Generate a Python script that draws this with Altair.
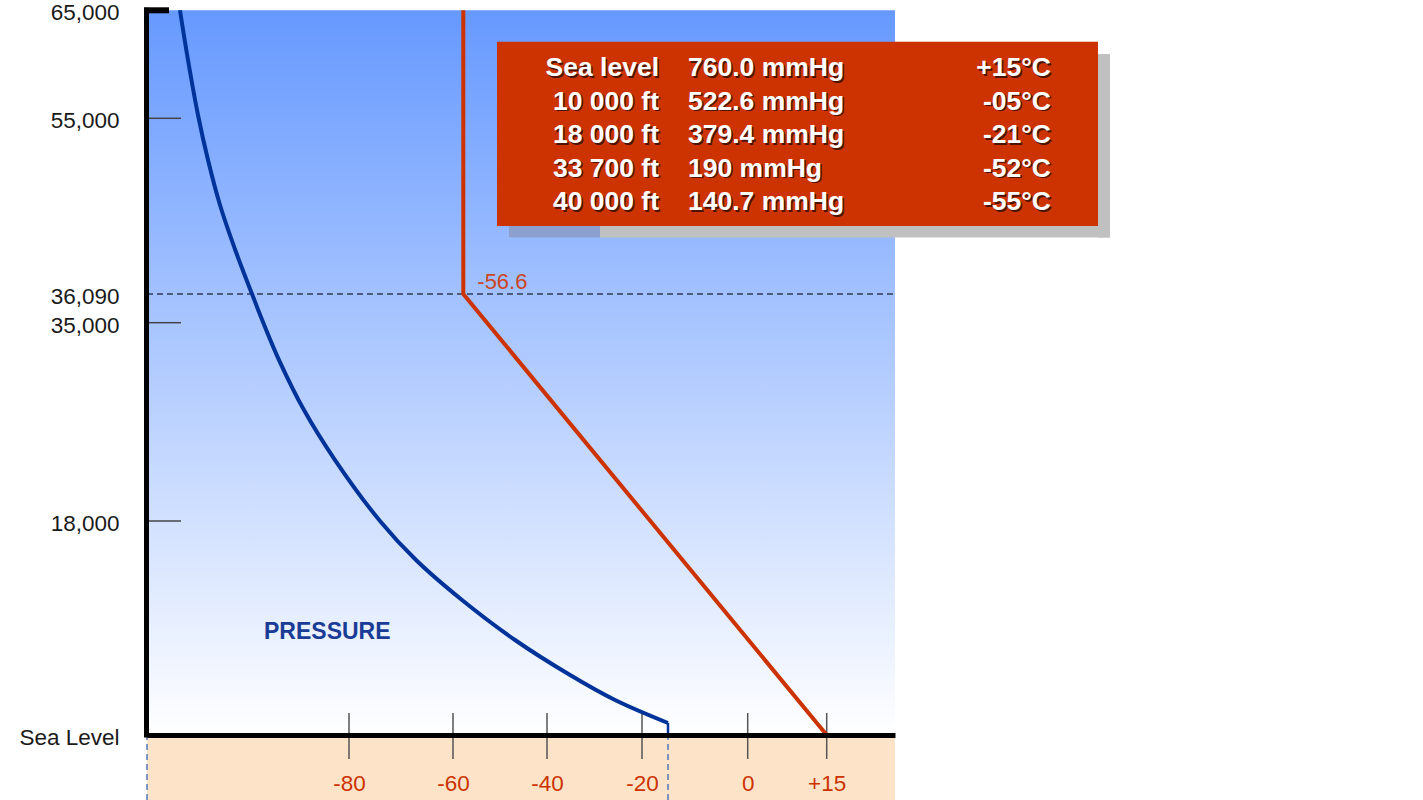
import altair as alt
import pandas as pd

# Standard atmosphere: temperature (deg C) against altitude (ft)
TEMP_ALT_FT = [0, 36090, 65000]
TEMP_C = [15, -56.6, -56.6]

# Pressure curve: pressure (mmHg) against altitude (ft)
SEA_LEVEL_MMHG = 760
PRESS_ALT_FT = [1009, 2944, 5046, 7990, 11354, 14718, 18000, 23228, 27513, 31798,
                35027, 36090, 40609, 45666, 50510, 55306, 60399, 65000]
PRESS_MMHG = [760, 682.7, 617.1, 536.8, 459.5, 392.4, 339.9, 274.3, 229.0, 192.6,
              169.2, 153.2, 129.8, 106.5, 89.0, 74.4, 59.8, 48.1]

Y_TICKS = [0, 18000, 35000, 36090, 55000, 65000]
Y_INNER_TICKS = [18000, 35000, 55000]
X_TICKS = [-80, -60, -40, -20, 0, 15]

TABLE_ALT = ["Sea level", "10 000 ft", "18 000 ft", "33 700 ft", "40 000 ft"]
TABLE_PRESS = ["760.0 mmHg", "522.6 mmHg", "379.4 mmHg", "190 mmHg", "140.7 mmHg"]
TABLE_TEMP = ["+15°C", "-05°C", "-21°C", "-52°C", "-55°C"]

FONT = "Liberation Sans"
RED = "#cc3300"
BLUE = "#003399"

# the vertical axis is drawn to a hand-spaced (piecewise) altitude scale
ALT_LO, ALT_HI = -5466, 65000
ys = alt.Scale(domain=[ALT_LO, 0, 18000, 35000, 36090, 55000, ALT_HI],
               range=[790, 725, 511, 312.7, 284, 108.3, 0.3], nice=False, zero=False)
T_LO, T_HI = -118.8, 28
ts = alt.Scale(domain=[T_LO, -80, -60, -56.6, -40, -20, 0, 15, T_HI],
               range=[0, 202, 306, 316.3, 400, 495, 600.7, 679.7, 748], nice=False, zero=False)
ps = alt.Scale(domain=[0, 760], range=[0, 521], nice=False, zero=False)

yaxis = alt.Axis(values=Y_TICKS, title=None, ticks=False, domain=False, grid=False,
                 labelExpr="datum.value == 0 ? 'Sea Level' : format(datum.value, ',')",
                 labelPadding=28, labelOffset=2.5, labelFontSize=22.5, labelFont=FONT,
                 labelColor="#1a1a1a", labelOverlap=False)
xaxis = alt.Axis(values=X_TICKS, title=None, orient="bottom", offset=-65, ticks=False, tickSize=0,
                 domain=True, domainColor="black", domainWidth=5, grid=False,
                 labelExpr="datum.value > 0 ? '+' + datum.value : '' + datum.value",
                 labelPadding=37, labelFontSize=22.5, labelFont=FONT, labelColor=RED,
                 labelOverlap=False, labelFlush=False, zindex=1)


def Y(field):
    return alt.Y(field, type="quantitative", scale=ys, axis=yaxis)


def TX(field, axis=None):
    return alt.X(field, type="quantitative", scale=ts, axis=axis)


def PX(field):
    return alt.X(field, type="quantitative", scale=ps, axis=None)


one = pd.DataFrame({"t0": [T_LO], "t1": [T_HI], "a0": [0], "a1": [ALT_HI], "lo": [ALT_LO]})

sky = alt.Chart(one).mark_rect(
    fill=alt.LinearGradient(gradient="linear", x1=0, x2=0, y1=0, y2=1,
                            stops=[alt.GradientStop(color="#6699ff", offset=0),
                                   alt.GradientStop(color="#ffffff", offset=1)])
).encode(x=TX("t0"), x2="t1", y=Y("a0"), y2="a1")

ground = alt.Chart(one).mark_rect(fill="#fde4c9").encode(
    x=TX("t0"), x2="t1", y=Y("lo"), y2="a0")

left_drop = alt.Chart(one).mark_rule(color="#5577bb", strokeWidth=1.5, strokeDash=[6, 4]).encode(
    x=TX("t0"), y=Y("lo"), y2="a0")

tropopause = alt.Chart(pd.DataFrame({"t0": [T_LO], "t1": [T_HI], "a": [36090]})).mark_rule(
    color="#333d55", strokeWidth=1.5, strokeDash=[6, 4]).encode(x=TX("t0"), x2="t1", y=Y("a"))

y_ticks = alt.Chart(pd.DataFrame({"a": Y_INNER_TICKS})).mark_rule(
    color="#444444", strokeWidth=1.5).encode(x=alt.value(2), x2=alt.value(34), y=Y("a"))

x_ticks = alt.Chart(pd.DataFrame({"t": X_TICKS})).mark_rule(
    color="#555555", strokeWidth=1.5).encode(x=TX("t", xaxis), y=alt.value(703), y2=alt.value(749))

temp_df = pd.DataFrame({"alt": TEMP_ALT_FT, "temp": TEMP_C})
temp_line = alt.Chart(temp_df).mark_line(color=RED, strokeWidth=4, strokeJoin="miter").encode(
    x=TX("temp"), y=Y("alt"), order="alt:Q")

press_df = pd.DataFrame({"alt": PRESS_ALT_FT, "p": PRESS_MMHG})
press_line = alt.Chart(press_df).mark_line(color=BLUE, strokeWidth=4, interpolate="catmull-rom").encode(
    x=PX("p"), y=Y("alt"), order="alt:Q")

# short solid stub from sea level up to where the curve starts, dashed below the axis
stub_df = pd.DataFrame({"p": [SEA_LEVEL_MMHG], "a0": [0], "a1": [PRESS_ALT_FT[0]], "lo": [ALT_LO]})
press_stub = alt.Chart(stub_df).mark_rule(color=BLUE, strokeWidth=2.5).encode(
    x=PX("p"), y=Y("a0"), y2="a1")
press_drop = alt.Chart(stub_df).mark_rule(
    color="#5577bb", strokeWidth=1.5, strokeDash=[6, 4]).encode(x=PX("p"), y=Y("lo"), y2="a0")

y_line = alt.Chart(one).mark_rule(color="black", strokeWidth=5, strokeCap="square").encode(
    x=alt.value(-0.5), y=Y("a0"), y2="a1")

top_cap = alt.Chart(one).mark_rule(color="black", strokeWidth=6).encode(
    x=alt.value(-3), x2=alt.value(22), y=Y("a1"))

tropo_label = alt.Chart(temp_df.iloc[[1]]).transform_calculate(
    lbl="'' + datum.temp").mark_text(
    align="left", baseline="middle", dx=14, dy=-12, fontSize=22, font=FONT, color="#cc4422"
).encode(x=TX("temp"), y=Y("alt"), text="lbl:N")

press_label = alt.Chart(pd.DataFrame({"p": [170.7], "alt": [8662], "txt": ["PRESSURE"]})).mark_text(
    align="left", baseline="middle", fontSize=23, fontWeight="bold", font=FONT, color="#1a3c96"
).encode(x=PX("p"), y=Y("alt"), text="txt:N")

# data table box
shadow_a = alt.Chart(one).mark_rect(color="#8d9fcc").encode(
    x=alt.value(362), x2=alt.value(453), y=alt.value(216), y2=alt.value(227.5))
shadow_b = alt.Chart(one).mark_rect(color="#c0c0c0").encode(
    x=alt.value(453), x2=alt.value(963), y=alt.value(216), y2=alt.value(227.5))
shadow_c = alt.Chart(one).mark_rect(color="#c0c0c0").encode(
    x=alt.value(951), x2=alt.value(963), y=alt.value(44), y2=alt.value(227.5))
box = alt.Chart(one).mark_rect(color=RED).encode(
    x=alt.value(350), x2=alt.value(951), y=alt.value(31.7), y2=alt.value(216))


def table_col(lines, x, align):
    txt = "\n".join(lines)
    base = dict(text=txt, lineBreak="\n", lineHeight=33.5, align=align, baseline="middle",
                fontSize=26.5, fontWeight="bold", font=FONT)
    shade = alt.Chart(one).mark_text(color="#4d1300", dx=1.5, dy=1.8, **base).encode(
        x=alt.value(x), y=alt.value(58))
    face = alt.Chart(one).mark_text(color="white", **base).encode(
        x=alt.value(x), y=alt.value(58))
    return [shade, face]


table = (table_col(TABLE_ALT, 512, "right")
         + table_col(TABLE_PRESS, 541, "left")
         + table_col(TABLE_TEMP, 904, "right"))

chart = alt.layer(
    sky, ground, left_drop, tropopause, y_ticks, x_ticks, temp_line, press_line, press_stub,
    press_drop, y_line, top_cap, tropo_label, press_label, shadow_a, shadow_b, shadow_c, box,
    *table
).resolve_scale(x="independent").properties(
    width=1276, height=790, autosize="none",
    padding={"left": 147, "top": 10, "right": 0, "bottom": 0},
    background="white"
).configure_view(stroke=None)

chart.save("out.html", embed_options={"renderer": "svg", "actions": False})
